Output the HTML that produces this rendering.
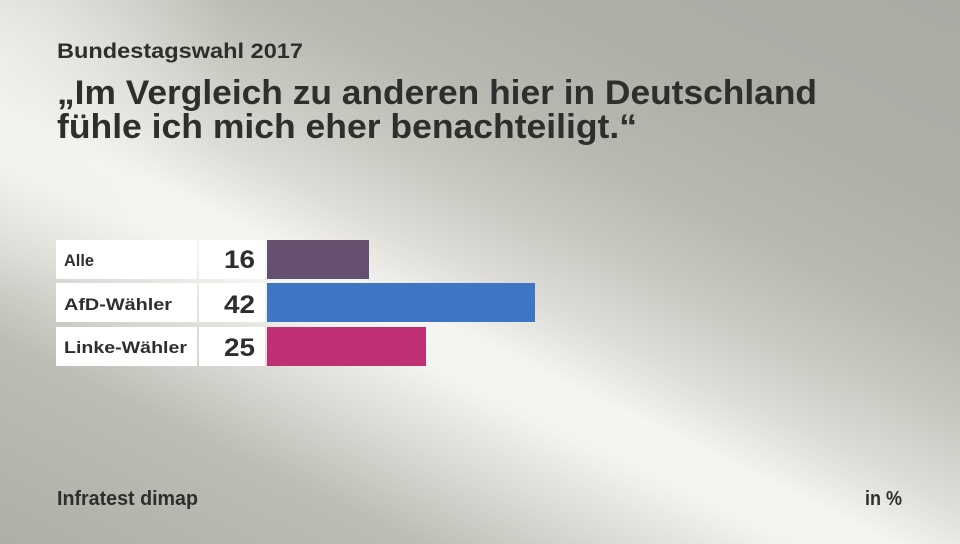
<!DOCTYPE html>
<html>
<head>
<meta charset="utf-8">
<style>
  html, body { margin: 0; padding: 0; width: 960px; height: 544px; overflow: hidden; }
  svg { display: block; }
  text { font-family: "Liberation Sans", "DejaVu Sans", sans-serif; font-weight: bold; fill: #2f2e2c; }
</style>
</head>
<body>
<svg width="960" height="544" viewBox="0 0 960 544" xmlns="http://www.w3.org/2000/svg">
  <defs>
    <linearGradient id="bg" gradientUnits="userSpaceOnUse" x1="679" y1="-137" x2="281" y2="681">
      <stop offset="0" stop-color="#abaaa3"/>
      <stop offset="0.2" stop-color="#afaea7"/>
      <stop offset="0.33" stop-color="#b9b8b1"/>
      <stop offset="0.42" stop-color="#c9c9c2"/>
      <stop offset="0.5" stop-color="#dddcd7"/>
      <stop offset="0.57" stop-color="#f4f4f0"/>
      <stop offset="0.62" stop-color="#f3f3ef"/>
      <stop offset="0.7" stop-color="#dcdcd6"/>
      <stop offset="0.8" stop-color="#bdbcb5"/>
      <stop offset="1" stop-color="#afaea7"/>
    </linearGradient>
    <radialGradient id="tl" gradientUnits="userSpaceOnUse" cx="0" cy="60" r="230">
      <stop offset="0" stop-color="#f0f0ec" stop-opacity="0.8"/>
      <stop offset="1" stop-color="#f0f0ec" stop-opacity="0"/>
    </radialGradient>
  </defs>
  <rect x="0" y="0" width="960" height="544" fill="url(#bg)"/>
  <rect x="0" y="0" width="960" height="544" fill="url(#tl)"/>

  <!-- Titles -->
  <text x="57" y="58" font-size="21" textLength="246" lengthAdjust="spacingAndGlyphs">Bundestagswahl 2017</text>
  <text x="57" y="104" font-size="34" textLength="760" lengthAdjust="spacingAndGlyphs">„Im Vergleich zu anderen hier in Deutschland</text>
  <text x="57" y="138" font-size="34" textLength="580" lengthAdjust="spacingAndGlyphs">fühle ich mich eher benachteiligt.“</text>

  <!-- Row boxes -->
  <rect x="56" y="240" width="141" height="39" fill="#ffffff"/>
  <rect x="199" y="240" width="66" height="39" fill="#ffffff"/>
  <rect x="267" y="240" width="102" height="39" fill="#66506f"/>

  <rect x="56" y="283" width="141" height="39" fill="#ffffff"/>
  <rect x="199" y="283" width="66" height="39" fill="#ffffff"/>
  <rect x="267" y="283" width="268" height="39" fill="#3f76c3"/>

  <rect x="56" y="327" width="141" height="39" fill="#ffffff"/>
  <rect x="199" y="327" width="66" height="39" fill="#ffffff"/>
  <rect x="267" y="327" width="159" height="39" fill="#be2f74"/>

  <!-- Labels -->
  <text x="64" y="266" font-size="17" textLength="30" lengthAdjust="spacingAndGlyphs">Alle</text>
  <text x="64" y="310" font-size="17" textLength="108" lengthAdjust="spacingAndGlyphs">AfD-Wähler</text>
  <text x="64" y="353" font-size="17" textLength="123" lengthAdjust="spacingAndGlyphs">Linke-Wähler</text>

  <!-- Values -->
  <text x="224" y="268" font-size="25" textLength="31" lengthAdjust="spacingAndGlyphs">16</text>
  <text x="224" y="313" font-size="25" textLength="31" lengthAdjust="spacingAndGlyphs">42</text>
  <text x="224" y="356" font-size="25" textLength="31" lengthAdjust="spacingAndGlyphs">25</text>

  <!-- Footer -->
  <text x="57" y="505" font-size="20" textLength="141" lengthAdjust="spacingAndGlyphs">Infratest dimap</text>
  <text x="865" y="505" font-size="20" textLength="37" lengthAdjust="spacingAndGlyphs">in %</text>
</svg>
</body>
</html>
